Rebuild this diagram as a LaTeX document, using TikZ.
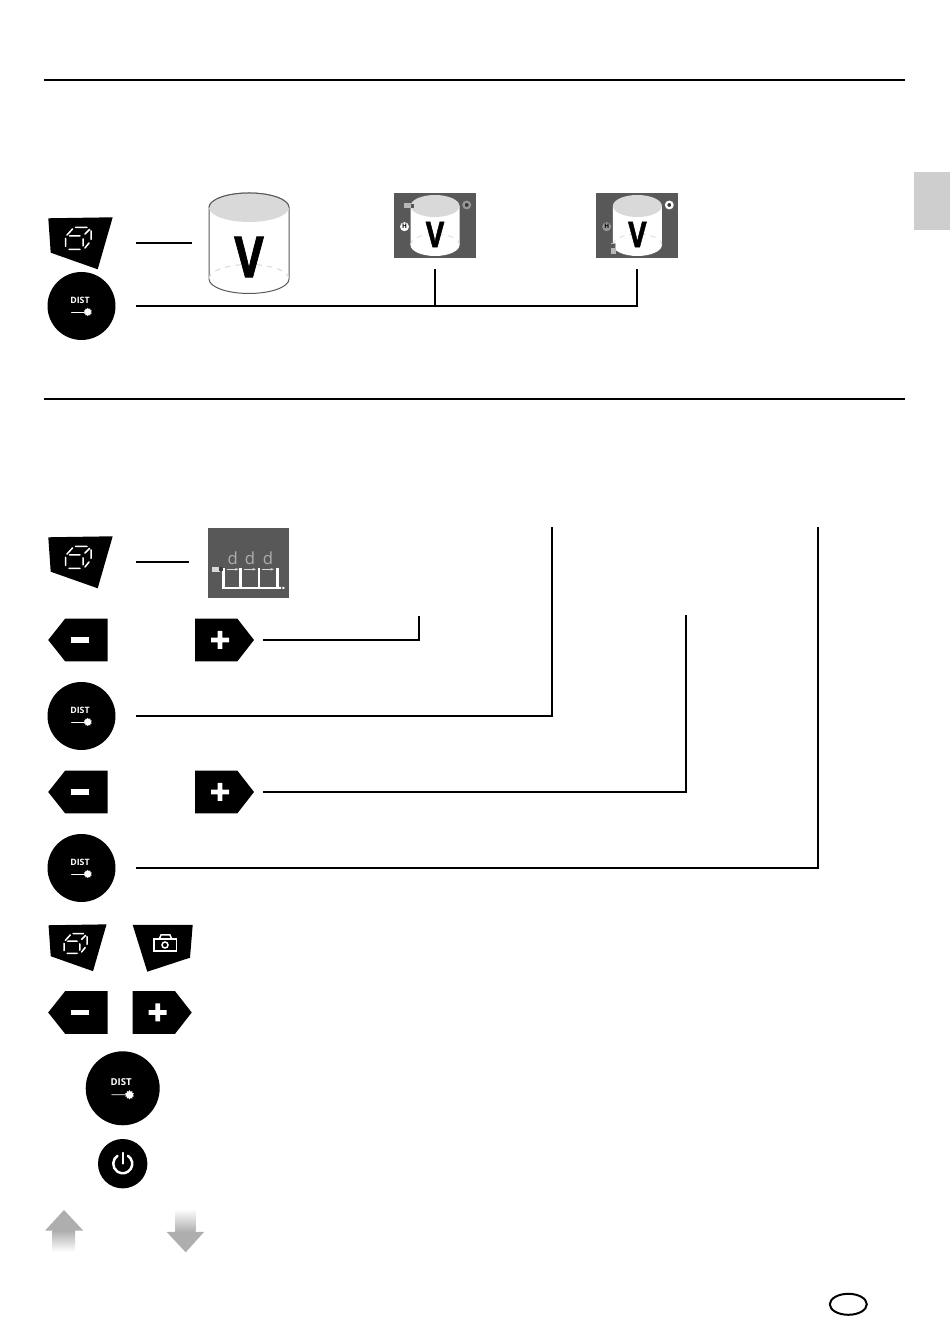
\documentclass[tikz,border=0pt]{standalone}
\usepackage{fontspec}
\setmainfont{Open Sans}
\newfontfamily\heavyfont[UprightFont={* Bold},FakeBold=1.6]{Open Sans}
\usetikzlibrary{calc,positioning,shapes.geometric,arrows.meta}
\definecolor{slate}{HTML}{585858}
\definecolor{lid}{HTML}{D9D9D9}
\definecolor{arrowgray}{HTML}{AEAEAE}
\tikzset{
   wire/.style={line width=.04cm},
   icon line/.style={draw=white, line width=.03cm, line cap=round},
   view box/.style={rectangle, fill=slate, inner sep=0pt, minimum width=1.64cm, minimum height=1.3cm},
   key disc/.style={circle, fill=black, inner sep=0pt, minimum size=1.36cm},
   mode dot/.style={circle, fill=white, draw=#1, line width=.2pt, text=black, inner sep=0pt, minimum size=.17cm, font=\fontsize{3.6pt}{3.6pt}\bfseries},
   mark dot/.style={circle, fill=black!80, draw=#1, line width=.045cm, inner sep=0pt, minimum size=.13cm},
   big letter/.style={inner sep=0pt, xscale=.8, font=\fontsize{#1}{#1}\heavyfont},
   cube key/.pic={
     \fill (-32.7,24.7) -- (31.7,25.7) -- (16.7,-26.3) -- (-30.3,-9.7) -- cycle;
     \draw[icon line] (-15.5,4.5) -- (-15.5,-3.5) (-12,-6.5) -- (-1,-6.5) (-11.5,7) -- (-1,7) (2,4) -- (2,-3) (-14,8) -- (-8.5,14) (-5.5,15.5) -- (6,15.5) (4,9) -- (8.5,13.5) (10,12) -- (10,3.5) (8,0) -- (4,-5);
     \coordinate (-lead) at (55,0);
   },
   camera key/.pic={
     \fill (-29.3,22.5) -- (30.7,22.5) -- (28,-10.2) -- (-14.7,-24.2) -- cycle;
     \draw[icon line] (-8,-3.5) rectangle (14.7,8.5);
     \draw[icon line] (-2.7,8.5) -- (-1,12.5) -- (8,12.5) -- (9.7,8.5);
     \draw[icon line] (3,2.5) circle (3);
   },
   minus key/.pic={
     \fill (-32,0) -- (-15,21.4) -- (27.5,21.4) -- (27.5,-21.4) -- (-15,-21.4) -- cycle;
     \fill[white] (-8.8,-2.7) rectangle (8.8,2.7);
   },
   plus key/.pic={
     \fill (-25,21.4) -- (17.3,21.4) -- (34,0) -- (17.3,-21.4) -- (-25,-21.4) -- cycle;
     \fill[white] (-9,-2.3) rectangle (9,2.3) (-2.3,-9) rectangle (2.3,9);
     \coordinate (-lead) at (43.3,0);
   },
   dist key/.pic={
     \node[key disc] (-body) at (0,0) {};
     \node[text=white, inner sep=0pt, font=\fontsize{5pt}{5pt}\bfseries] (-label) at (-1.5,5.5) {DIST};
     \node[star, star points=10, star point ratio=1.4, fill=white, inner sep=0pt, minimum size=.17cm] (-spark) at (6.3,-6) {};
     \draw[icon line, line width=.016cm] (-10,-6) -- (-spark);
     \coordinate (-lead) at (54.5,0);
   },
   big drum/.pic={
     \filldraw[fill=white, draw=black!65, line width=.02cm] (-40,35.5) -- (-40,-36) arc[start angle=180, end angle=360, x radius=40, y radius=14.5] -- (40,35.5) arc[start angle=0, end angle=180, x radius=40, y radius=14.5] -- cycle;
     \filldraw[fill=lid, draw=none] (0,35.5) ellipse (40 and 14.5);
     \draw[black!65, line width=.02cm] (-40,35.5) arc[start angle=180, end angle=0, x radius=40, y radius=14.5];
     \draw[lid, dashed, line width=.02cm] (-40,-36) arc[start angle=180, end angle=0, x radius=40, y radius=14.5];
     \node[big letter=32pt] (-letter) at (0,-14) {V};
     \coordinate (-lead) at (-57,0);
   },
   small drum/.pic={
     \fill[white] (-24.5,19.5) -- (-24.5,-19.5) arc[start angle=180, end angle=360, x radius=24.5, y radius=11] -- (24.5,19.5) -- cycle;
     \fill[lid] (0,19.5) ellipse (24.5 and 11);
     \draw[lid, dashed, line width=.016cm] (-24.5,-19.5) arc[start angle=180, end angle=0, x radius=24.5, y radius=11];
     \node[big letter=20pt] (-letter) at (0,-9) {V};
   }
}

\begin{document}
\begin{tikzpicture}[x=.02cm,y=.02cm]
  \useasboundingbox (0,0) rectangle (950,1339);

  \coordinate (ruleone a) at (44,1259);
  \coordinate (ruleone b) at (905,1259);
  \coordinate (ruletwo a) at (44,940);
  \coordinate (ruletwo b) at (905,940);
  \draw[wire] (ruleone a) -- (ruleone b);
  \draw[wire] (ruletwo a) -- (ruletwo b);
  \fill[lid!95!black] (914,1109) rectangle (950,1167);

  % first row of keys and views
  \pic (cubeone) at (81,1096) {cube key};
  \pic (distone) at (81.5,1033) {dist key};
  \pic (drumone) at (249,1096) {big drum};

  \node[view box] at (435,1113.5)   (viewone) {};
  \node[view box] at (637.4,1113.5) (viewtwo) {};
  \pic at (viewone.center) {small drum};
  \pic at (viewtwo.center) {small drum};

  \fill[lid!85!black] (404,1131) rectangle (412,1136);
  \fill[slate] (410.5,1131) rectangle (414,1135);
  \node[mode dot=white] at (404.5,1112.3) (heightone) {H};
  \node[mark dot=lid!70!black] at (466.7,1134) (markone) {};

  \fill[lid!85!black] (610.7,1085) rectangle (615.7,1096.3);
  \fill[slate] (611.2,1091.3) rectangle (615.2,1095);
  \node[mode dot=lid!70!black, fill=lid!70!black] at (606.7,1112.3) (heighttwo) {H};
  \node[mark dot=white] at (669.3,1134) (marktwo) {};

  \draw[wire] (cubeone-lead) -- (drumone-lead);
  \draw[wire,shorten >=.22cm] (distone-lead) -| (viewtwo.south);
  \draw[wire,shorten <=.22cm] (viewone.south) -- (viewone.south |- distone-lead);

  % second row
  \pic (cubetwo) at (81,777) {cube key};
  \node[view box, minimum height=1.394cm, minimum width=1.632cm] at (248.5,776.2) (viewthree) {};
  \draw[wire,shorten >=.36cm] (cubetwo-lead) -- (cubetwo-lead -| viewthree.west);

  \draw[white, line width=.05cm] (223.3,771) -- (223.3,751) -- (277.3,751) -- (277.3,771);
  \draw[white, line width=.05cm] (240.7,771) -- (240.7,751);
  \draw[white, line width=.05cm] (259,771) -- (259,751);
  \fill[white] (279,750) rectangle (281,752) (282.3,750) rectangle (284.3,752);
  \fill[lid] (212,767.3) rectangle (220,772);
  \fill[slate!70!black] (219.3,768) rectangle (223.3,772);
  \foreach \i/\x in {a/232.7,b/250,c/268}{
    \node[text=lid!80!black, inner sep=0pt, font=\fontsize{9.5pt}{9.5pt}\selectfont] at (\x,781) (gap\i) {d};
    \draw[lid, line width=.012cm, -{Stealth[length=.07cm,width=.05cm]}] (\x-6,769.7) -- (\x+6,769.7);
  }

  \pic (minusone) at (80.2,699) {minus key};
  \pic (plusone) at (220,699) {plus key};
  \pic (disttwo) at (81.5,623) {dist key};
  \pic (minustwo) at (80.2,547) {minus key};
  \pic (plustwo) at (220,547) {plus key};
  \pic (distthree) at (81.5,471) {dist key};

  \coordinate (stopone) at (419,723);
  \coordinate (stoptwo) at (552,812);
  \coordinate (stopthree) at (686,724);
  \coordinate (stopfour) at (818,812);
  \draw[wire] (plusone-lead) -| (stopone);
  \draw[wire] (disttwo-lead) -| (stoptwo);
  \draw[wire] (plustwo-lead) -| (stopthree);
  \draw[wire] (distthree-lead) -| (stopfour);

  % keys without leads
  \pic[scale=.9] (cubethree) at (78,391.5) {cube key};
  \pic (camera) at (162,391.5) {camera key};
  \pic (minusthree) at (80.2,326.5) {minus key};
  \pic (plusthree) at (157.7,326.5) {plus key};
  \pic[scale=1.088,transform shape] (distfour) at (122.7,250.7) {dist key};

  \node[key disc, minimum size=.988cm] at (122.7,175.3) (power) {};
  \draw[icon line, line width=.05cm] (power.center) ++(5.2,7.9) arc[start angle=57, end angle=-237, radius=9.5];
  \draw[icon line, line width=.035cm] (power.center) ++(0,11) -- ++(0,-11);

  \shade[top color=arrowgray, bottom color=white] (52.7,87.3) rectangle (75,108.3);
  \fill[arrowgray] (45,108.3) -- (64,129) -- (83.3,108.3) -- cycle;
  \shade[top color=white, bottom color=arrowgray] (175,107) rectangle (195.7,130);
  \fill[arrowgray] (166.7,107) -- (185.7,86.7) -- (204,107) -- cycle;

  \node[ellipse, draw=black, wire, inner sep=0pt, minimum width=.74cm, minimum height=.42cm] at (848.3,34.7) (country) {};
\end{tikzpicture}
\end{document}
